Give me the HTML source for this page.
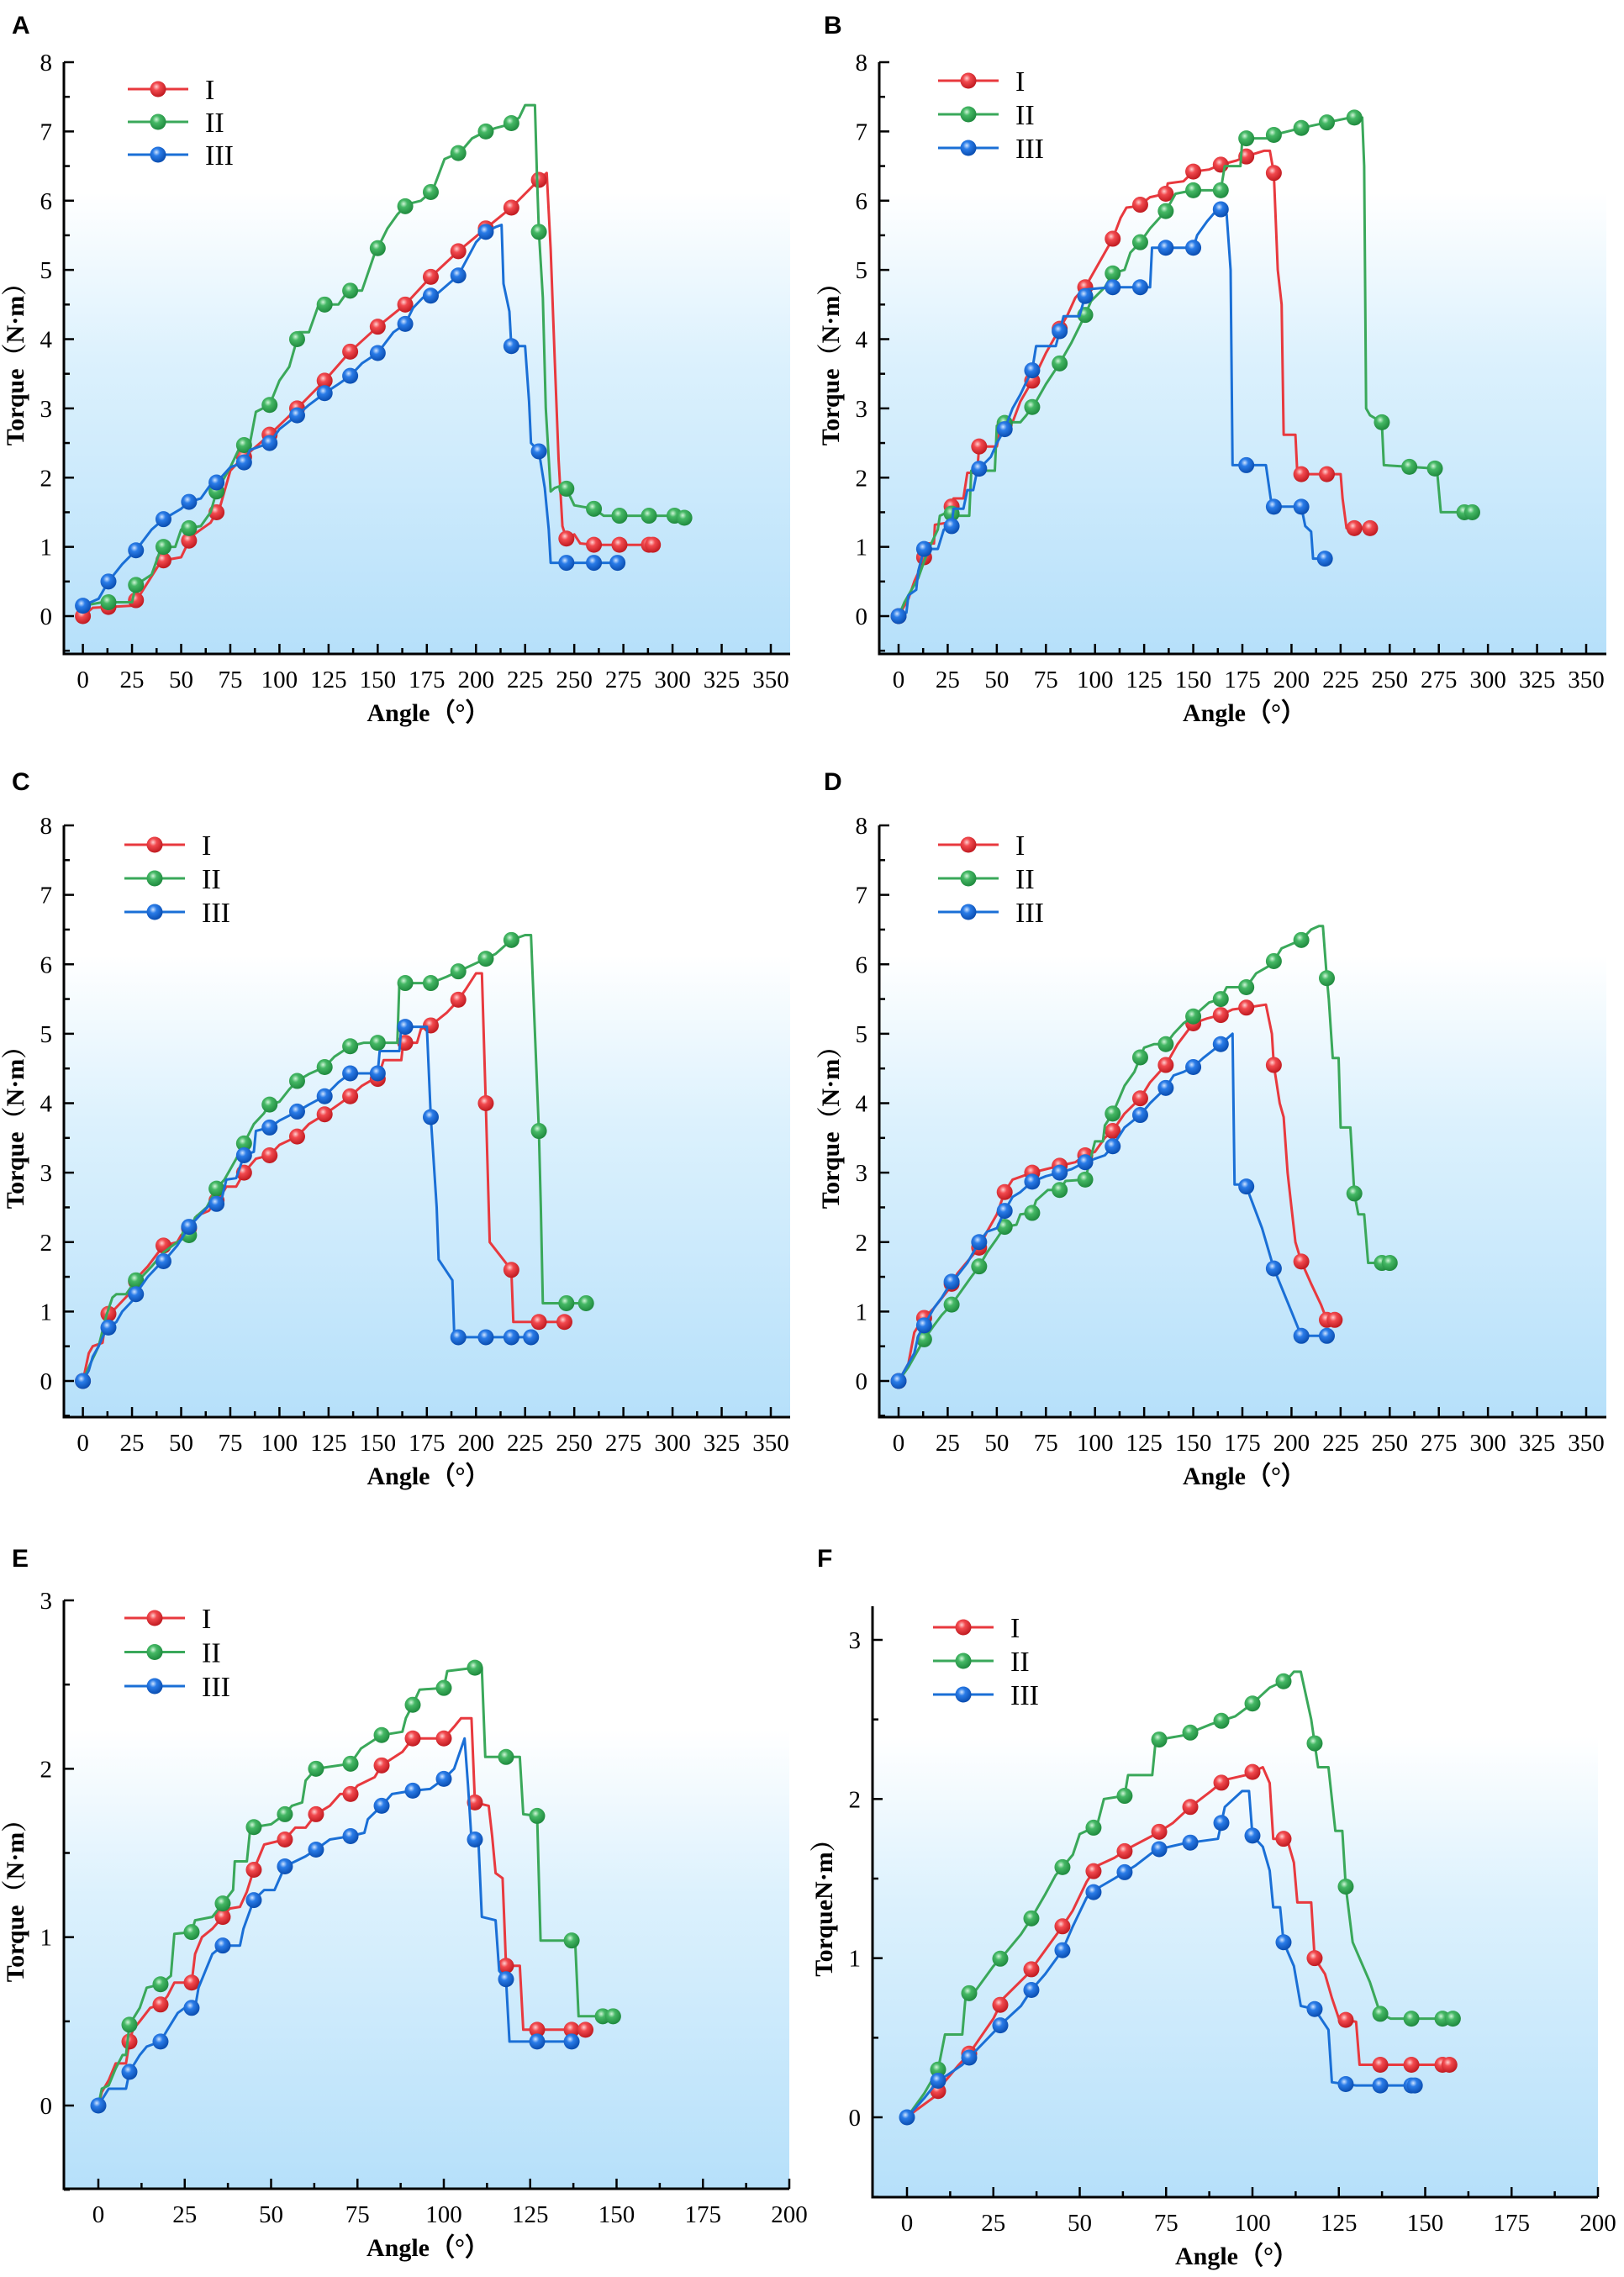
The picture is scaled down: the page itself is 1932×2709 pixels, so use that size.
<!DOCTYPE html>
<html><head><meta charset="utf-8"><style>
html,body{margin:0;padding:0;background:#fff}
svg{display:block}
text{font-family:"Liberation Serif",serif}
</style></head><body>
<svg id="fig" width="1932" height="2709" viewBox="0 0 1932 2709" xmlns="http://www.w3.org/2000/svg">
<defs>
<linearGradient id="bg" x1="0" y1="0" x2="0" y2="1">
<stop offset="0" stop-color="#ffffff"/><stop offset="0.22" stop-color="#ffffff"/><stop offset="0.5" stop-color="#dcf1fd"/><stop offset="1" stop-color="#b6e0fa"/>
</linearGradient>
<radialGradient id="mr" cx="0.4" cy="0.35" r="0.65"><stop offset="0" stop-color="#ffd0d0"/><stop offset="0.35" stop-color="#f24a4f"/><stop offset="1" stop-color="#c01a20"/></radialGradient>
<radialGradient id="mg" cx="0.4" cy="0.35" r="0.65"><stop offset="0" stop-color="#d0f5d8"/><stop offset="0.35" stop-color="#45b865"/><stop offset="1" stop-color="#1f8a3e"/></radialGradient>
<radialGradient id="mb" cx="0.4" cy="0.35" r="0.65"><stop offset="0" stop-color="#d0e4ff"/><stop offset="0.35" stop-color="#2a7ce8"/><stop offset="1" stop-color="#0a4db0"/></radialGradient>
</defs>
</svg>
<script>
// ===== Panel A =====
const aIx=[0,5,25,30,40,50,55,65,70,75,80,95,109,123,136,150,164,177,191,205,218,232,236,238,240,242,244,246,250,253,260,290];
const aIy=[0,0.12,0.15,0.35,0.8,0.85,1.15,1.35,1.6,2.1,2.25,2.62,3.0,3.4,3.82,4.18,4.5,4.9,5.27,5.6,5.9,6.3,6.4,5.3,3.75,2.27,1.3,1.12,1.18,1.05,1.03,1.03];
const aIm=[0,13,27,41,54,68,82,95,109,123,136,150,164,177,191,205,218,232,246,260,273,288,290];
const aIIx=[0,10,25,27,35,40,47,50,60,65,68,75,80,85,88,95,100,105,110,115,120,130,135,142,148,155,160,165,172,178,184,192,198,205,210,217,222,225,230,231,232,234,235.5,238,240,245,250,260,265,305,306];
const aIIy=[0.15,0.2,0.2,0.45,0.6,1.0,1.0,1.25,1.3,1.5,1.8,2.15,2.45,2.5,2.95,3.05,3.4,3.6,4.1,4.1,4.5,4.5,4.7,4.7,5.2,5.6,5.8,5.95,6.0,6.15,6.6,6.7,6.9,7.0,7.05,7.1,7.2,7.38,7.38,6.4,5.55,4.6,3.0,1.8,1.85,1.9,1.6,1.55,1.45,1.45,1.42];
const aIIm=[13,27,41,54,68,82,95,109,123,136,150,164,177,191,205,218,232,246,260,273,288,301,306];
const aIIIx=[0,8,13,20,27,35,41,50,54,60,65,68,75,82,85,95,100,109,115,123,130,136,142,150,158,164,168,173,180,191,200,205,210,213,214,217,218,225,227,228,232,235,237,238,272];
const aIIIy=[0.15,0.25,0.5,0.75,0.95,1.25,1.4,1.55,1.65,1.7,1.9,1.93,2.15,2.22,2.4,2.5,2.7,2.9,3.05,3.22,3.35,3.47,3.65,3.8,4.1,4.22,4.45,4.6,4.65,4.92,5.4,5.55,5.62,5.65,4.8,4.4,3.9,3.9,3.1,2.5,2.38,1.85,1.25,0.77,0.77];
const aIIIm=[0,13,27,41,54,68,82,95,109,123,136,150,164,177,191,205,218,232,246,260,272];
// ===== Panel B =====
const bIx=[0,5,8,12,15,18,18.5,25,28,33,35,40,41,50,52,58,62,66,70,75,82,86,90,95,100,105,109,113,116,122,128,136,137,145,150,158,164,172,178,186,189,191,193,195,196,202,203,225,226,228,240];
const bIy=[0,0.25,0.5,0.75,1.05,1.05,1.32,1.35,1.7,1.7,2.07,2.07,2.45,2.45,2.75,2.8,3.1,3.3,3.5,3.8,4.15,4.35,4.6,4.75,5.0,5.25,5.45,5.75,5.9,5.92,6.05,6.1,6.25,6.28,6.42,6.45,6.52,6.58,6.65,6.72,6.72,6.4,5.0,4.5,2.62,2.62,2.05,2.05,1.7,1.27,1.27];
const bIm=[0,13,27,41,54,68,82,95,109,123,136,150,164,177,191,205,218,232,240];
const bIIx=[0,3,10,15,20,21,25,30,36,37,43,49,50,55,62,65,70,75,82,88,95,98,105,109,115,118,123,128,136,141,150,164,166,174,175,190,191,205,218,230,236,237,238,240,246,247,274,276,292];
const bIIy=[0,0.2,0.55,0.95,1.25,1.45,1.5,1.45,1.45,2.1,2.1,2.1,2.75,2.8,2.8,2.9,3.1,3.35,3.65,3.95,4.35,4.55,4.75,4.95,5.0,5.25,5.4,5.6,5.85,6.1,6.15,6.15,6.5,6.5,6.9,6.9,6.95,7.05,7.13,7.2,7.2,6.5,3.0,2.9,2.8,2.18,2.13,1.5,1.5];
const bIIm=[27,54,68,82,95,109,123,136,150,164,177,191,205,218,232,246,260,273,288,292];
const bIIIx=[0,4,5,9,10,13,20,23,27,28,33,35,38,40,47,50,54,58,62,65,68,70,80,84,92,96,108,128,129,150,152,157,163,167,169,170,187,190,205,207,210,211,217];
const bIIIy=[0,0.05,0.3,0.38,0.65,0.97,0.97,1.25,1.3,1.55,1.55,1.82,1.82,2.1,2.3,2.5,2.7,3.0,3.2,3.38,3.55,3.9,3.9,4.33,4.33,4.72,4.75,4.75,5.32,5.32,5.5,5.7,5.9,5.8,5.0,2.18,2.18,1.58,1.58,1.3,1.22,0.83,0.83];
const bIIIm=[0,13,27,41,54,68,82,95,109,123,136,150,164,177,191,205,217];
// ===== Panel C =====
const cIx=[0,3,5,10,12,15,20,25,28,33,37,41,48,50,54,58,64,68,72,73,78,82,88,95,100,109,115,122,130,136,142,148,150,153,162,163,170,172,177,185,190,195,200,203,205,207,218,219,246];
const cIy=[0,0.4,0.5,0.55,0.95,1.0,1.15,1.3,1.5,1.65,1.8,1.95,2.0,2.1,2.2,2.38,2.45,2.6,2.75,2.8,2.8,3.0,3.2,3.25,3.4,3.52,3.7,3.82,3.98,4.1,4.25,4.35,4.35,4.62,4.62,4.87,4.87,5.07,5.12,5.3,5.45,5.65,5.87,5.87,4.0,2.0,1.6,0.85,0.85];
const cIm=[0,13,27,41,54,68,82,95,109,123,136,150,164,177,191,205,218,232,245];
const cIIx=[0,3,8,12,15,17,22,27,30,35,41,48,54,57,63,68,72,78,82,87,92,95,100,105,109,115,123,128,136,143,160,161,177,185,195,205,210,218,225,228,232,233,234,256];
const cIIy=[0,0.2,0.5,0.95,1.2,1.25,1.25,1.45,1.5,1.65,1.85,2.0,2.1,2.35,2.5,2.77,2.9,3.2,3.42,3.7,3.85,3.98,4.02,4.2,4.32,4.42,4.52,4.67,4.82,4.87,4.87,5.73,5.73,5.82,5.95,6.08,6.15,6.35,6.42,6.42,3.6,2.5,1.12,1.12];
const cIIm=[27,54,68,82,95,109,123,136,150,164,177,191,205,218,232,246,256];
const cIIIx=[0,3,5,8,12,17,20,25,28,33,38,42,48,54,60,65,70,73,78,82,87,88,95,100,109,115,123,130,136,150,151,161,162,175,177,180,181,188,189,228];
const cIIIy=[0,0.15,0.35,0.5,0.75,0.85,1.0,1.15,1.3,1.5,1.65,1.75,1.95,2.22,2.4,2.55,2.55,2.9,2.92,3.25,3.3,3.6,3.65,3.75,3.88,3.98,4.1,4.3,4.43,4.43,4.75,4.75,5.1,5.1,3.8,2.5,1.75,1.45,0.63,0.63];
const cIIIm=[0,13,27,41,54,68,82,95,109,123,136,150,164,177,191,205,218,228];
// ===== Panel D =====
const dIx=[0,5,8,12,18,25,30,35,41,45,50,54,58,63,68,75,82,90,95,100,105,109,115,123,128,136,142,150,157,164,170,178,187,190,191,194,196,198,200,202,205,210,215,218,222];
const dIy=[0,0.25,0.7,0.88,1.05,1.3,1.55,1.72,1.92,2.15,2.4,2.72,2.9,2.95,3.0,3.05,3.1,3.15,3.25,3.3,3.5,3.6,3.85,4.07,4.3,4.55,4.85,5.15,5.22,5.27,5.35,5.38,5.42,5.0,4.55,4.0,3.8,3.0,2.5,2.0,1.72,1.4,1.1,0.88,0.88];
const dIm=[0,13,27,41,54,68,82,95,109,123,136,150,164,177,191,205,218,222];
const dIIx=[0,5,10,13,18,22,27,32,37,41,45,50,54,60,62,68,70,76,82,85,95,100,104,105,109,112,115,120,125,130,136,140,145,150,158,164,167,177,182,190,195,205,210,214,216,218,219,221,224,225,230,232,234,237,239,250];
const dIIy=[0,0.2,0.45,0.6,0.8,0.95,1.1,1.3,1.5,1.65,1.85,2.05,2.22,2.25,2.4,2.42,2.6,2.75,2.75,2.88,2.9,3.45,3.45,3.68,3.85,4.05,4.25,4.45,4.8,4.85,4.85,5.0,5.15,5.25,5.45,5.5,5.67,5.67,5.87,6.0,6.23,6.35,6.5,6.55,6.55,5.8,5.5,4.65,4.65,3.65,3.65,2.7,2.4,2.4,1.7,1.7];
const dIIm=[13,27,41,54,68,82,95,109,123,136,150,164,177,191,205,218,232,246,250];
const dIIIx=[0,3,5,8,10,13,18,22,27,30,35,41,45,50,54,58,62,68,75,82,88,95,100,105,109,115,123,128,136,140,145,150,155,164,170,171,175,177,185,191,200,205,218];
const dIIIy=[0,0.15,0.25,0.4,0.65,0.8,1.05,1.2,1.43,1.52,1.7,2.0,2.15,2.2,2.45,2.65,2.72,2.87,2.95,3.0,3.05,3.15,3.2,3.25,3.38,3.65,3.83,4.0,4.22,4.4,4.45,4.52,4.65,4.85,5.0,2.83,2.83,2.8,2.2,1.62,1.0,0.65,0.65];
const dIIIm=[0,13,27,41,54,68,82,95,109,123,136,150,164,177,191,205,218];
// ===== Panel E =====
const eIx=[0,1,3,5,8,9,10,12,15,18,20,22,27,28,30,33,36,38,41,43,45,47,48,54,57,60,63,67,70,73,75,80,82,88,91,100,103,105,108,109,113,114,115,117,117.5,118,122,123,141];
const eIy=[0,0.08,0.15,0.25,0.25,0.38,0.45,0.5,0.58,0.6,0.65,0.73,0.73,0.9,1.0,1.05,1.12,1.17,1.18,1.27,1.4,1.5,1.55,1.58,1.65,1.65,1.73,1.78,1.85,1.85,1.9,1.95,2.02,2.1,2.18,2.18,2.25,2.3,2.3,1.8,1.78,1.6,1.38,1.35,1.1,0.83,0.83,0.45,0.45];
const eIm=[9,18,27,36,45,54,63,73,82,91,100,109,118,127,137,141];
const eIIx=[0,1,3,5,7,8,9,12,14,18,21,22,27,28,33,36,39,39.5,43,44,50,54,56,59,60,63,73,76,82,88,89,91,93,100,101,109,111,112,122,123,127,128,138,139,149];
const eIIy=[0,0.1,0.12,0.22,0.3,0.3,0.48,0.58,0.7,0.72,0.77,1.02,1.03,1.1,1.12,1.2,1.28,1.45,1.45,1.65,1.67,1.73,1.78,1.8,1.93,2.0,2.03,2.12,2.2,2.22,2.3,2.38,2.47,2.48,2.58,2.6,2.6,2.07,2.07,1.73,1.72,0.98,0.98,0.53,0.53];
const eIIm=[9,18,27,36,45,54,63,73,82,91,100,109,118,127,137,146,149];
const eIIIx=[0,3,8,9,12,14,18,20,23,25,28,29,31,33,36,41,42,45,48,51,54,60,63,67,73,77,78,82,85,91,96,100,103,106,107,108,110,111,115,116,118,119,137];
const eIIIy=[0,0.1,0.1,0.2,0.3,0.35,0.38,0.45,0.55,0.58,0.58,0.7,0.8,0.9,0.95,0.95,1.05,1.22,1.28,1.28,1.42,1.48,1.52,1.58,1.6,1.62,1.7,1.78,1.85,1.87,1.88,1.94,2.0,2.18,1.9,1.58,1.58,1.12,1.1,0.8,0.75,0.38,0.38];
const eIIIm=[0,9,18,27,36,45,54,63,73,82,91,100,109,118,127,137];
// ===== Panel F =====
const fIx=[0,3,8,10,15,18,25,28,35,40,45,48,52,55,60,65,72,77,82,88,92,98,103,105,106,110,112,113,117,118,121,123,125,130,131,157];
const fIy=[0,0.05,0.13,0.2,0.33,0.4,0.62,0.75,0.9,1.05,1.2,1.3,1.48,1.58,1.63,1.7,1.78,1.85,1.95,2.05,2.12,2.15,2.2,2.1,1.75,1.75,1.6,1.35,1.35,1.0,0.9,0.75,0.62,0.6,0.33,0.33];
const fIm=[9,18,27,36,45,54,63,73,82,91,100,109,118,127,137,146,155,157];
const fIIx=[0,5,9,11,16,17,20,25,28,33,36,40,43,48,50,55,57,63,64,71,72,80,88,95,100,105,110,112,114,117,119,122,124,126,127,129,131,134,137,140,158];
const fIIy=[0,0.15,0.3,0.52,0.52,0.77,0.8,0.95,1.02,1.15,1.25,1.4,1.52,1.65,1.78,1.83,2.0,2.02,2.15,2.15,2.37,2.4,2.47,2.52,2.6,2.7,2.75,2.8,2.8,2.5,2.2,2.2,1.8,1.8,1.45,1.1,1.0,0.85,0.65,0.62,0.62];
const fIIm=[9,18,27,36,45,54,63,73,82,91,100,109,118,127,137,146,155,158];
const fIIIx=[0,5,9,12,16,20,28,33,36,40,45,48,52,56,60,66,72,80,90,92,97,99,100,103,105,106,108,109,112,114,118,122,123,130,147];
const fIIIy=[0,0.12,0.23,0.27,0.33,0.42,0.6,0.7,0.8,0.9,1.05,1.2,1.38,1.45,1.5,1.58,1.68,1.72,1.75,1.95,2.05,2.05,1.77,1.7,1.55,1.32,1.32,1.1,0.95,0.7,0.68,0.55,0.22,0.2,0.2];
const fIIIm=[0,9,18,27,36,45,54,63,73,82,91,100,109,118,127,137,146,147];
// tick labels
const xTicks350=[0,25,50,75,100,125,150,175,200,225,250,275,300,325,350];
const xTicks200=[0,25,50,75,100,125,150,175,200];
const yTicks8=[0,1,2,3,4,5,6,7,8];
const yTicks3=[0,1,2,3];
const seriesNames=['I','II','III'];

const panels=[
 {id:'a',letter:'A',lx:14,ly:40,ax:76,x0:98.6,x1:917,xmax:350,right:940,y0:733,yT:74,ymax:8,top:74,bottom:778,xt:xTicks350,yt:yTicks8,ytitle:'Torque（N·m）',leg:[152,106,39],s:[[aIx,aIy,aIm],[aIIx,aIIy,aIIm],[aIIIx,aIIIy,aIIIm]]},
 {id:'b',letter:'B',lx:980,ly:40,ax:1046,x0:1069,x1:1887,xmax:350,right:1911,y0:733,yT:74,ymax:8,top:74,bottom:778,xt:xTicks350,yt:yTicks8,ytitle:'Torque（N·m）',leg:[1116,96,40],s:[[bIx,bIy,bIm],[bIIx,bIIy,bIIm],[bIIIx,bIIIy,bIIIm]]},
 {id:'c',letter:'C',lx:14,ly:940,ax:76,x0:98.6,x1:917,xmax:350,right:940,y0:1643,yT:982,ymax:8,top:982,bottom:1686,xt:xTicks350,yt:yTicks8,ytitle:'Torque（N·m）',leg:[148,1005,40],s:[[cIx,cIy,cIm],[cIIx,cIIy,cIIm],[cIIIx,cIIIy,cIIIm]]},
 {id:'d',letter:'D',lx:980,ly:940,ax:1046,x0:1069,x1:1887,xmax:350,right:1911,y0:1643,yT:982,ymax:8,top:982,bottom:1686,xt:xTicks350,yt:yTicks8,ytitle:'Torque（N·m）',leg:[1116,1005,40],s:[[dIx,dIy,dIm],[dIIx,dIIy,dIIm],[dIIIx,dIIIy,dIIIm]]},
 {id:'e',letter:'E',lx:14,ly:1864,ax:76,x0:117,x1:939,xmax:200,right:939,y0:2505,yT:1904,ymax:3,top:1904,bottom:2604,xt:xTicks200,yt:yTicks3,ytitle:'Torque（N·m）',leg:[148,1925,40.5],s:[[eIx,eIy,eIm],[eIIx,eIIy,eIIm],[eIIIx,eIIIy,eIIIm]]},
 {id:'f',letter:'F',lx:972,ly:1864,ax:1038,x0:1079,x1:1901,xmax:200,right:1901,y0:2519,yT:1951,ymax:3,top:1911,bottom:2614,xt:xTicks200,yt:yTicks3,ytitle:'TorqueN·m）',leg:[1110,1936,40],s:[[fIx,fIy,fIm],[fIIx,fIIy,fIIm],[fIIIx,fIIIy,fIIIm]]}
];
const colors=['#e8393e','#3aa85a','#1a6fd6'];
const mfill=['url(#mr)','url(#mg)','url(#mb)'];
const NS='http://www.w3.org/2000/svg';
const svg=document.getElementById('fig');
function mk(tag,attrs,parent){const e=document.createElementNS(NS,tag);for(const k in attrs)e.setAttribute(k,attrs[k]);(parent||svg).appendChild(e);return e;}
function interp(xs,ys,a){if(a<=xs[0])return ys[0];for(let i=1;i<xs.length;i++){if(a<=xs[i]){const t=(a-xs[i-1])/((xs[i]-xs[i-1])||1);return ys[i-1]+t*(ys[i]-ys[i-1]);}}return ys[ys.length-1];}

panels.forEach(p=>{
 const g=mk('g',{});
 
 
 const sx=v=>p.x0+(p.x1-p.x0)*v/p.xmax;
 const sy=v=>p.y0-(p.y0-p.yT)*v/p.ymax;
 const bg=mk('rect',{x:p.ax,y:p.top,width:p.right-p.ax,height:p.bottom-p.top,fill:'url(#bg)'},g);
 
 
 const L=mk('text',{x:p.lx,y:p.ly,'font-size':30,'font-weight':'bold',style:'font-family:"Liberation Sans",sans-serif'},g);
 L.textContent=p.letter;
 
 
 const ya=mk('line',{x1:p.ax,y1:p.top,x2:p.ax,y2:p.bottom,stroke:'#000','stroke-width':3},g);
 
 
 const xa=mk('line',{x1:p.ax-1.5,y1:p.bottom,x2:p.right,y2:p.bottom,stroke:'#000','stroke-width':3},g);
 
 
 const step=p.xt[1]-p.xt[0];
 p.xt.forEach((v,i)=>{
  mk('line',{x1:sx(v),y1:p.bottom,x2:sx(v),y2:p.bottom-12,stroke:'#000','stroke-width':2.5},g);
  if(i<p.xt.length-1)mk('line',{x1:sx(v+step/2),y1:p.bottom,x2:sx(v+step/2),y2:p.bottom-7,stroke:'#000','stroke-width':2.5},g);
  const t=mk('text',{x:sx(v),y:p.bottom+40,'font-size':29,'text-anchor':'middle'},g);
  t.textContent=v;
  
  
 });
 p.yt.forEach((v,i)=>{
  mk('line',{x1:p.ax,y1:sy(v),x2:p.ax+12,y2:sy(v),stroke:'#000','stroke-width':2.5},g);
  mk('line',{x1:p.ax,y1:sy(v-0.5),x2:p.ax+7,y2:sy(v-0.5),stroke:'#000','stroke-width':2.5},g);
  const t=mk('text',{x:p.ax-14,y:sy(v)+10,'font-size':29,'text-anchor':'end'},g);
  t.textContent=v;
  
  
 });
 const xt=mk('text',{x:(p.ax+p.right)/2+2,y:p.bottom+80,'font-size':30,'font-weight':'bold','text-anchor':'middle'},g);
 xt.textContent='Angle（°）';
 
 
 const cy=(p.top+p.bottom)/2, cx=p.ax-48;
 const yt=mk('text',{x:cx,y:cy,'font-size':30,'font-weight':'bold','text-anchor':'middle',transform:`rotate(-90 ${cx} ${cy})`,style:'font-family:"Liberation Serif","Noto Serif CJK SC",serif'},g);
 yt.textContent=p.ytitle;
 
 
 p.s.forEach((s,k)=>{
  const [xs,ys,ms]=s;
  const pts=xs.map((v,i)=>sx(v).toFixed(1)+','+sy(ys[i]).toFixed(1)).join(' ');
  const pl=mk('polyline',{points:pts,fill:'none',stroke:colors[k],'stroke-width':3,'stroke-linejoin':'round'},g);
  
  
  ms.forEach(a=>{
   const c=mk('circle',{cx:sx(a),cy:sy(interp(xs,ys,a)),r:9.5,fill:mfill[k]},g);
   
   
  });
 });
 const [lx,ly,dy]=p.leg;
 const lg=mk('g',{},g);
 
 
 seriesNames.forEach((n,k)=>{
  const y=ly+k*dy;
  const e=mk('g',{},lg);
  
  
  mk('line',{x1:lx,y1:y,x2:lx+72,y2:y,stroke:colors[k],'stroke-width':3},e);
  mk('circle',{cx:lx+36,cy:y,r:9.5,fill:mfill[k]},e);
  const t=mk('text',{x:lx+92,y:y+12,'font-size':34},e);
  t.textContent=n;
 });
});
</script>
</body></html>
